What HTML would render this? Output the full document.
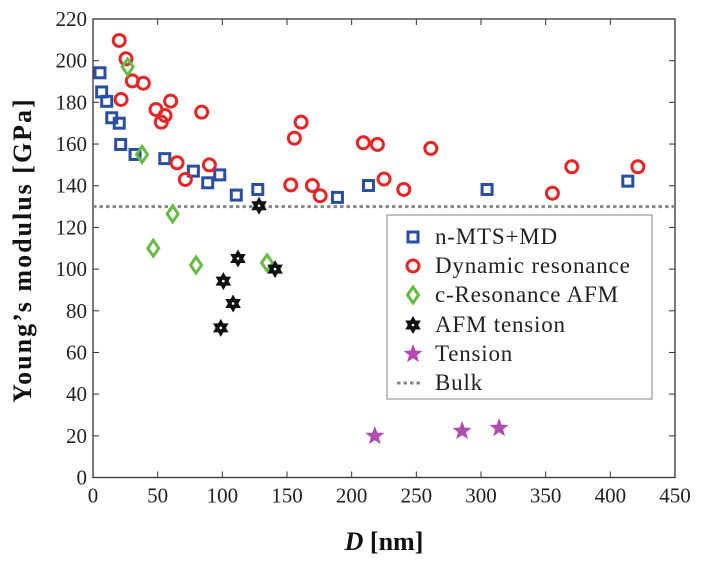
<!DOCTYPE html>
<html><head><meta charset="utf-8"><style>
body{margin:0;background:#fff;}
svg text{font-family:"Liberation Serif",serif;}
</style></head><body>
<svg id="chart" width="701" height="560" viewBox="0 0 701 560" xmlns="http://www.w3.org/2000/svg">
<g id="axes"></g><g id="marks"></g><g id="legend"></g>
</svg>
<script>
const xTicks=[0,50,100,150,200,250,300,350,400,450];
const yTicks=[0,20,40,60,80,100,120,140,160,180,200,220];
const mtsD=[5.4,6.7,10.6,14.5,20.3,21.4,32.5,55.5,77.6,88.7,98,110.8,127.4,189,213,304.7,413.5];
const mtsE=[194.2,185,180.5,172.6,170,159.8,155,153,147,141.4,145.2,135.5,138.2,134.4,140.1,138.2,142.2];
const dynD=[20.3,25.5,30.4,38.9,21.7,48.7,60,55.7,52.8,84,65,71.4,90,152.9,160.9,155.7,169.6,175.6,209,219.9,225,240.3,261.2,355.2,370.2,421.3];
const dynE=[209.7,200.9,190.3,189.2,181.4,176.6,180.6,173.7,170.5,175.3,151,143,150,140.4,170.5,162.8,140.1,135.2,160.6,159.8,143.2,138.2,157.9,136.4,149.1,149.1];
const crD=[26.8,37.9,61.6,46.6,79.7,134.6];
const crE=[197,155,126.5,110,101.9,103];
const afmD=[128.4,112.1,100.8,108.3,98.8,140.8];
const afmE=[130.4,105.1,94.2,83.5,71.8,100];
const tenD=[217.9,285.4,314];
const tenE=[19.9,22.3,23.7];
const bulkE=130;

const L=93,R=675,T=19,B=477.5;
const xs=d=>L+(d-0)/(450-0)*(R-L);
const ys=v=>B-(v-0)/(220-0)*(B-T);
const NS="http://www.w3.org/2000/svg";
function mk(tag,parent,attrs){const e=document.createElementNS(NS,tag);for(const k in attrs)e.setAttribute(k,attrs[k]);parent.appendChild(e);return e;}
const ax=document.getElementById('axes'),mg=document.getElementById('marks'),lg=document.getElementById('legend');

let bl=mk('line',mg,{x1:L,x2:R,y1:ys(bulkE),y2:ys(bulkE),stroke:'#888',"stroke-width":3,"stroke-dasharray":"3.5,3"});



let fr=mk('rect',ax,{x:L,y:T,width:R-L,height:B-T,fill:'none',stroke:'#333',"stroke-width":1.3});


xTicks.forEach(t=>{
  const x=xs(t);
  mk('line',ax,{x1:x,x2:x,y1:B,y2:B-6,stroke:'#333'});
  mk('line',ax,{x1:x,x2:x,y1:T,y2:T+6,stroke:'#333'});
  const tx=mk('text',ax,{x:x,y:B+25,"text-anchor":"middle","font-size":21,fill:'#222'});
  tx.textContent=t;
  
  
});
yTicks.forEach(t=>{
  const y=ys(t);
  mk('line',ax,{x1:L,x2:L+6,y1:y,y2:y,stroke:'#333'});
  mk('line',ax,{x1:R,x2:R-6,y1:y,y2:y,stroke:'#333'});
  const tx=mk('text',ax,{x:L-6,y:y+7,"text-anchor":"end","font-size":21,fill:'#222'});
  tx.textContent=t;
  
  
});
let xt=mk('text',ax,{x:384,y:550,"text-anchor":"middle","font-size":26,"font-weight":"bold",fill:'#111'});
xt.innerHTML='<tspan font-style="italic">D</tspan> [nm]';


let yt=mk('text',ax,{x:0,y:0,"text-anchor":"middle","font-size":26,"font-weight":"bold","letter-spacing":"2",fill:'#111',transform:'translate(31,250) rotate(-90)'});
yt.textContent="Young’s modulus [GPa]";



function square(g,x,y){return mk('rect',g,{x:x-5,y:y-5,width:10,height:10,fill:'none',stroke:'#2a4ea0',"stroke-width":3});}
function circle(g,x,y){return mk('circle',g,{cx:x,cy:y,r:6,fill:'none',stroke:'#e32626',"stroke-width":3});}
function diamond(g,x,y){return mk('path',g,{d:`M${x},${y-8}L${x+5.5},${y}L${x},${y+8}L${x-5.5},${y}Z`,fill:'none',stroke:'#66bb44',"stroke-width":3});}
function hexa(g,x,y){const r=9;const gg=mk('g',g,{});
mk('path',gg,{d:`M${x},${y-r}L${x+r*0.866},${y+r/2}L${x-r*0.866},${y+r/2}Z`,fill:'#111'});
mk('path',gg,{d:`M${x},${y+r}L${x-r*0.866},${y-r/2}L${x+r*0.866},${y-r/2}Z`,fill:'#111'});
mk('circle',gg,{cx:x,cy:y,r:1.3,fill:'#fff'});return gg;}
function star(g,x,y){let p='';for(let i=0;i<10;i++){const a=-Math.PI/2+i*Math.PI/5,r=i%2?4.2:10;p+=(i?'L':'M')+(x+r*Math.cos(a)).toFixed(1)+','+(y+r*Math.sin(a)).toFixed(1);}return mk('path',g,{d:p+'Z',fill:'#b04bb0'});}

mtsD.forEach((d,i)=>{const e=square(mg,xs(d),ys(mtsE[i]));

});
dynD.forEach((d,i)=>{const e=circle(mg,xs(d),ys(dynE[i]));

});
crD.forEach((d,i)=>{const e=diamond(mg,xs(d),ys(crE[i]));

});
afmD.forEach((d,i)=>{const e=hexa(mg,xs(d),ys(afmE[i]));

});
tenD.forEach((d,i)=>{const e=star(mg,xs(d),ys(tenE[i]));

});

let box=mk('rect',lg,{x:387,y:215,width:265,height:184,fill:'#fff',stroke:'#999',"stroke-width":1.2});


const labels=['n-MTS+MD','Dynamic resonance','c-Resonance AFM','AFM tension','Tension','Bulk'];
const rows=[237,266,295,325,354,383];
const drawers=[square,circle,diamond,hexa,star,null];
labels.forEach((lab,i)=>{
  const y=rows[i];
  if(drawers[i]) drawers[i](lg,413,y);
  else mk('line',lg,{x1:397,x2:423,y1:y,y2:y,stroke:'#888',"stroke-width":3,"stroke-dasharray":"3.5,3"});
  const t=mk('text',lg,{x:435,y:y+7,"font-size":23,"letter-spacing":"0.8",fill:'#222'});
  t.textContent=lab;
  
  
});
</script>
</body></html>
